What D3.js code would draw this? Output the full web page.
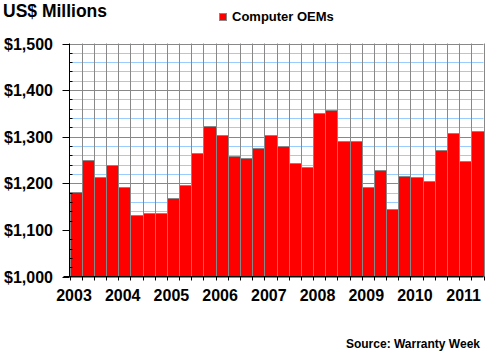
<!DOCTYPE html>
<html>
<head>
<meta charset="utf-8">
<script src="https://cdn.jsdelivr.net/npm/d3@7"></script>
<style>
  html, body { margin: 0; padding: 0; background: #fff; }
  svg { display: block; }
  text { font-family: "Liberation Sans", Arial, sans-serif; font-weight: bold; fill: #000; }
</style>
</head>
<body>
<svg id="chart" width="487" height="356"></svg>
<script>
// ---- data ----
const years = ["2003","2004","2005","2006","2007","2008","2009","2010","2011"];
const quarters = [
  "2003Q1","2003Q2","2003Q3","2003Q4",
  "2004Q1","2004Q2","2004Q3","2004Q4",
  "2005Q1","2005Q2","2005Q3","2005Q4",
  "2006Q1","2006Q2","2006Q3","2006Q4",
  "2007Q1","2007Q2","2007Q3","2007Q4",
  "2008Q1","2008Q2","2008Q3","2008Q4",
  "2009Q1","2009Q2","2009Q3","2009Q4",
  "2010Q1","2010Q2","2010Q3","2010Q4",
  "2011Q1","2011Q2"
];
const computerOEMs = [
  1181, 1249, 1213, 1239,
  1193, 1133, 1136, 1136,
  1168, 1196, 1264, 1322,
  1303, 1258, 1254, 1275,
  1303, 1279, 1243, 1236,
  1350, 1357, 1290, 1290,
  1192, 1228, 1144, 1216,
  1213, 1204, 1271, 1309,
  1247, 1312
];
const yMajorTicks = [1000, 1100, 1200, 1300, 1400, 1500];
const yMinorTicks = d3.range(1000, 1501, 20);
const seriesName = "Computer OEMs";

// ---- layout ----
const svg = d3.select("#chart");
const pLeft = 69.5, pRight = 483.5, pTop = 43.5, pBottom = 276.5;

const x = d3.scaleBand().domain(quarters).range([pLeft, pRight]).padding(0);
const y = d3.scaleLinear().domain([1000, 1500]).range([pBottom, pTop]);
const fmt = v => "$" + d3.format(",")(v);
const snap = v => Math.round(v) + 0.5;

// minor horizontal gridlines (light blue)
svg.append("g").selectAll("line")
  .data(yMinorTicks.filter(v => v % 100 !== 0))
  .join("line")
  .attr("x1", pLeft).attr("x2", pRight)
  .attr("y1", d => snap(y(d))).attr("y2", d => snap(y(d)))
  .attr("stroke", "#99ccff").attr("stroke-width", 1);

// major horizontal gridlines (gray)
svg.append("g").selectAll("line")
  .data(yMajorTicks)
  .join("line")
  .attr("x1", pLeft).attr("x2", pRight)
  .attr("y1", d => snap(y(d))).attr("y2", d => snap(y(d)))
  .attr("stroke", "#888888").attr("stroke-width", 1);

// vertical gridlines (gray) at category boundaries
const boundaries = quarters.map(q => x(q)).concat([pRight]);
svg.append("g").selectAll("line")
  .data(boundaries.slice(1))
  .join("line")
  .attr("x1", d => snap(d)).attr("x2", d => snap(d))
  .attr("y1", pTop).attr("y2", pBottom)
  .attr("stroke", "#888888").attr("stroke-width", 1);

// bars
svg.append("g").selectAll("rect")
  .data(quarters.map((q, i) => ({ q, v: computerOEMs[i] })))
  .join("rect")
  .attr("x", d => snap(x(d.q)))
  .attr("width", d => Math.round(x(d.q) + x.bandwidth()) - Math.round(x(d.q)))
  .attr("y", d => snap(y(d.v)))
  .attr("height", d => pBottom - snap(y(d.v)))
  .attr("fill", "#ff0000")
  .attr("stroke", "#888888").attr("stroke-width", 1);

// y axis
const yAxis = svg.append("g");
yAxis.append("line")
  .attr("x1", pLeft).attr("x2", pLeft).attr("y1", pTop).attr("y2", pBottom)
  .attr("stroke", "#000");
yAxis.selectAll("line.minor")
  .data(yMinorTicks.filter(v => v % 100 !== 0))
  .join("line").attr("class", "minor")
  .attr("x1", pLeft).attr("x2", pLeft + 3)
  .attr("y1", d => snap(y(d))).attr("y2", d => snap(y(d)))
  .attr("stroke", "#000");
yAxis.selectAll("line.major")
  .data(yMajorTicks)
  .join("line").attr("class", "major")
  .attr("x1", pLeft - 7).attr("x2", pLeft)
  .attr("y1", d => snap(y(d))).attr("y2", d => snap(y(d)))
  .attr("stroke", "#000");
yAxis.selectAll("text")
  .data(yMajorTicks)
  .join("text")
  .attr("x", 53).attr("y", d => y(d) + 6)
  .attr("text-anchor", "end")
  .attr("font-size", 16)
  .text(fmt);

// x axis
const xAxis = svg.append("g");
xAxis.append("line")
  .attr("x1", pLeft - 6).attr("x2", pRight).attr("y1", pBottom).attr("y2", pBottom)
  .attr("stroke", "#000");
xAxis.selectAll("line.tick")
  .data(boundaries)
  .join("line").attr("class", "tick")
  .attr("x1", d => snap(d)).attr("x2", d => snap(d))
  .attr("y1", pBottom).attr("y2", pBottom + 4)
  .attr("stroke", "#000");
xAxis.selectAll("text")
  .data(years)
  .join("text")
  .attr("x", yr => x(yr + "Q1") + 4.5)
  .attr("y", 301)
  .attr("text-anchor", "middle")
  .attr("font-size", 16)
  .text(d => d);

// title
svg.append("text")
  .attr("x", 3).attr("y", 17)
  .attr("font-size", 17.5)
  .text("US$ Millions");

// legend
const lg = svg.append("g");
lg.append("rect")
  .attr("x", 219.5).attr("y", 13.5).attr("width", 7).attr("height", 7)
  .attr("fill", "#ff0000").attr("stroke", "#888888");
lg.append("text")
  .attr("x", 232).attr("y", 21)
  .attr("font-size", 13)
  .text(seriesName);

// source
svg.append("text")
  .attr("x", 480).attr("y", 348)
  .attr("text-anchor", "end")
  .attr("font-size", 12)
  .text("Source: Warranty Week");
</script>
</body>
</html>
